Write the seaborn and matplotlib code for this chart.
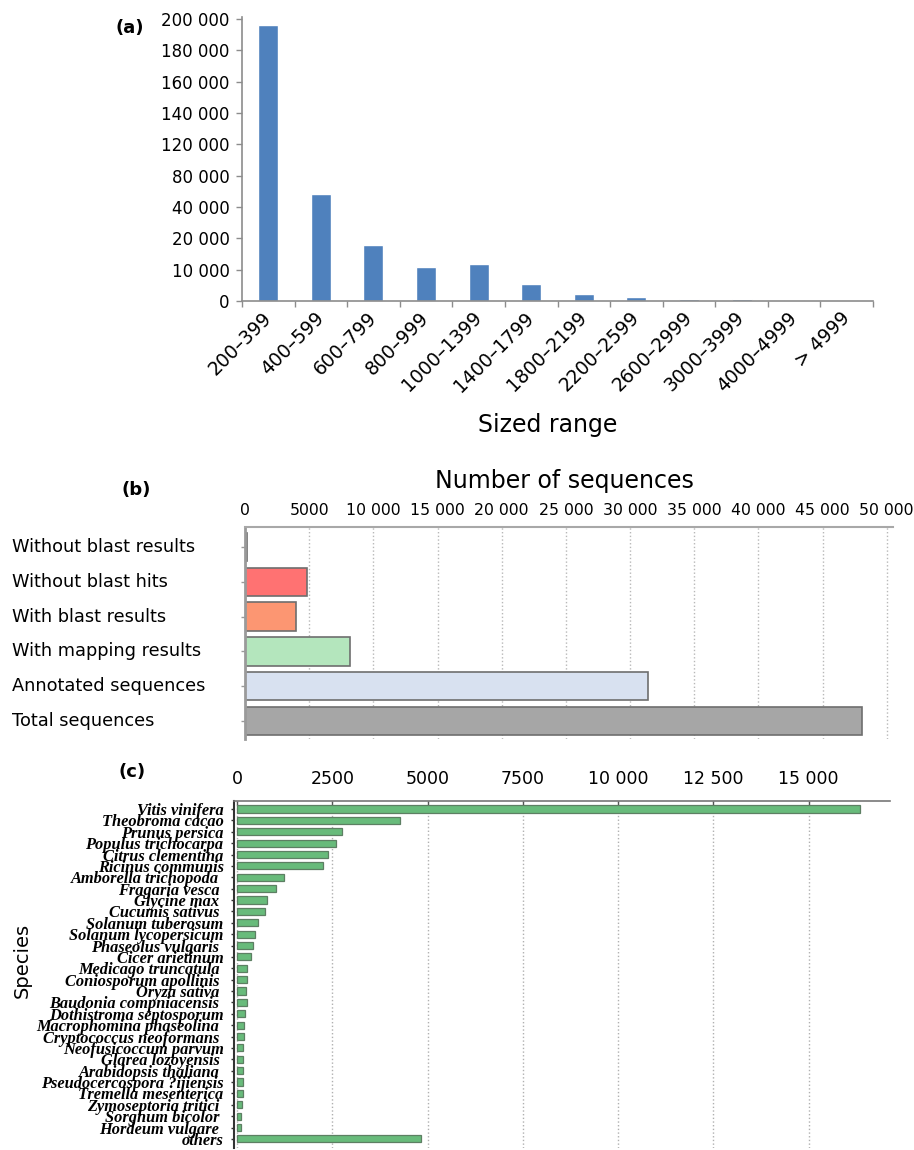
import numpy as np
import pandas as pd
import matplotlib
matplotlib.use("Agg")
import matplotlib.pyplot as plt
import matplotlib.transforms as mtransforms
import seaborn as sns

# ---- data -------------------------------------------------------------
size_ranges = ["200–399", "400–599", "600–799", "800–999", "1000–1399",
               "1400–1799", "1800–2199", "2200–2599", "2600–2999",
               "3000–3999", "4000–4999", "> 4999"]
range_counts = [196000, 56800, 17900, 10900, 11900, 5400, 2300, 1200,
                500, 500, 300, 300]
range_ticks = [0, 10000, 20000, 40000, 80000, 120000, 140000, 160000,
               180000, 200000]

blast_categories = ["Without blast results", "Without blast hits",
                    "With blast results", "With mapping results",
                    "Annotated sequences", "Total sequences"]
blast_counts = [150, 4800, 3940, 8150, 31380, 48050]
blast_colors = ["#a8a8a8", "#ff7272", "#fc9672", "#b4e6bd", "#d8e1f0", "#a6a6a6"]
blast_ticks = list(range(0, 50001, 5000))

species = ["Vitis vinifera", "Theobroma cacao", "Prunus persica",
           "Populus trichocarpa", "Citrus clementina", "Ricinus communis",
           "Amborella trichopoda ", "Fragaria vesca ", "Glycine max ",
           "Cucumis sativus ", "Solanum tuberosum", "Solanum lycopersicum",
           "Phaseolus vulgaris ", "Cicer arietinum", "Medicago truncatula ",
           "Coniosporum apollinis ", "Oryza sativa ", "Baudonia compniacensis ",
           "Dothistroma septosporum", "Macrophomina phaseolina ",
           "Cryptococcus neoformans ", "Neofusicoccum parvum",
           "Glarea lozoyensis ", "Arabidopsis thaliana ",
           "Pseudocercospora ?ijiensis", "Tremella mesenterica",
           "Zymoseptoria tritici ", "Sorghum bicolor ", "Hordeum vulgare ",
           "others"]
species_counts = [16350, 4270, 2740, 2590, 2390, 2260, 1230, 1010, 775, 730,
                  555, 460, 425, 370, 260, 265, 240, 250, 195, 170, 170, 152,
                  152, 150, 150, 145, 126, 108, 100, 4820]
species_ticks = [0, 2500, 5000, 7500, 10000, 12500, 15000]


def spaced(v):
    """Thousands separated by a space, four-digit numbers left plain."""
    return f"{v:,}".replace(",", " ") if v >= 10000 else str(v)


# ---- figure -----------------------------------------------------------
sns.set_theme(style="white")
plt.rcParams["font.family"] = ["DejaVu Sans"]
plt.rcParams.update({"text.color": "black", "axes.labelcolor": "black",
                     "xtick.color": "black", "ytick.color": "black"})
W, H = 914, 1150
fig = plt.figure(figsize=(W / 100, H / 100), dpi=100)


def box(l, t, r, b):
    return [l / W, 1 - b / H, (r - l) / W, (b - t) / H]


# ---- (a) size distribution -------------------------------------------
ax1 = fig.add_axes(box(242, 16.5, 873, 301))
df_a = pd.DataFrame({"range": size_ranges, "count": range_counts})
sns.barplot(data=df_a, x="range", y="count", color="#4f81bd", width=0.38,
            saturation=1, errorbar=None, ax=ax1)

# evenly spaced tick labels: piecewise linear value scale
scale_vals = np.array(range_ticks + [220000], dtype=float)
scale_idx = np.arange(len(scale_vals), dtype=float)
ax1.set_yscale("function",
               functions=(lambda v: np.interp(v, scale_vals, scale_idx),
                          lambda i: np.interp(i, scale_idx, scale_vals)))
ax1.set_ylim(0, 201700)
ax1.set_yticks(range_ticks)
ax1.set_yticklabels([spaced(v) for v in range_ticks], fontsize=12)
ax1.set_xlim(-0.5, len(size_ranges) - 0.5)
ax1.set_xticks(range(len(size_ranges)))
ax1.set_xticklabels(size_ranges, fontsize=13.5, rotation=45, ha="right",
                    va="center", rotation_mode="anchor")
off = mtransforms.ScaledTranslation(13 / 100, 0, fig.dpi_scale_trans)
for lab in ax1.get_xticklabels():
    lab.set_transform(lab.get_transform() + off)
ax1.set_xticks(np.arange(-0.5, len(size_ranges), 1), minor=True)
ax1.tick_params(axis="x", which="major", length=0, pad=10)
ax1.tick_params(axis="x", which="minor", length=4, width=1, color="#8c8c8c",
                bottom=True, direction="out")
ax1.tick_params(axis="y", length=4, width=1, color="#8c8c8c", left=True,
                direction="out", pad=5)
ax1.set_xlabel("")
ax1.set_ylabel("")
for s in ("top", "right"):
    ax1.spines[s].set_visible(False)
for s in ("left", "bottom"):
    ax1.spines[s].set_color("#8c8c8c")
    ax1.spines[s].set_linewidth(1.2)
fig.text(548 / W, 1 - 425 / H, "Sized range", fontsize=17, ha="center",
         va="center")
fig.text(130 / W, 1 - 28 / H, "(a)", fontsize=13, fontweight="bold",
         ha="center", va="center")

# ---- (b) blast summary -------------------------------------------------
ax2 = fig.add_axes(box(245.1, 526.7, 892.7, 739))
df_b = pd.DataFrame({"cat": blast_categories, "n": blast_counts})
sns.barplot(data=df_b, x="n", y="cat", hue="cat", palette=blast_colors,
            orient="h", width=0.82, saturation=1, errorbar=None, legend=False,
            edgecolor="#6e6e6e", linewidth=1.2, ax=ax2)
ax2.set_xlim(0, 50467)
ax2.set_ylim(5.52, -0.59)
ax2.xaxis.tick_top()
ax2.set_xticks(blast_ticks)
ax2.set_xticklabels([spaced(v) for v in blast_ticks], fontsize=11.3)
ax2.tick_params(axis="x", length=0, pad=6, top=True, bottom=False)
ax2.tick_params(axis="y", length=3, width=1, color="#9a9a9a", left=True,
                direction="out", labelleft=False)
ax2.set_xlabel("")
ax2.set_ylabel("")
ax2.grid(axis="x", linestyle=":", color="#b8b8b8", linewidth=1)
ax2.set_axisbelow(True)
for s in ("bottom", "right"):
    ax2.spines[s].set_visible(False)
ax2.spines["top"].set_color("#a8a8a8")
ax2.spines["top"].set_linewidth(1.5)
ax2.spines["left"].set_color("#9a9a9a")
ax2.spines["left"].set_linewidth(2.0)
lab_tr = mtransforms.blended_transform_factory(fig.transFigure, ax2.transData)
for i, name in enumerate(blast_categories):
    ax2.text(12 / W, i, name, transform=lab_tr, fontsize=12.8, ha="left",
             va="center")
fig.text(564 / W, 1 - 481 / H, "Number of sequences", fontsize=17,
         ha="center", va="center")
fig.text(136 / W, 1 - 490 / H, "(b)", fontsize=13, fontweight="bold",
         ha="center", va="center")

# ---- (c) top-hit species ----------------------------------------------
ax3 = fig.add_axes(box(234, 800.7, 890, 1148))
df_c = pd.DataFrame({"sp": species, "n": species_counts})
sns.barplot(data=df_c, x="n", y="sp", orient="h", color="#68bb7b",
            width=0.62, saturation=1, errorbar=None, edgecolor="#5d7f63",
            linewidth=0.9, ax=ax3)
ax3.set_xlim(-84, 17134)
ax3.set_ylim(29.8, -0.73)
ax3.xaxis.tick_top()
ax3.set_xticks(species_ticks)
ax3.set_xticklabels([spaced(v) for v in species_ticks], fontsize=12.5)
ax3.tick_params(axis="x", length=3, width=1, color="#555555", top=True,
                bottom=False, direction="in", pad=9)
ax3.tick_params(axis="y", length=2, width=1, color="#333333", left=True,
                direction="out", pad=5.5)
for lab in ax3.get_yticklabels():
    lab.set_fontfamily("Liberation Serif")
    lab.set_fontweight("bold")
    lab.set_fontstyle("italic")
    lab.set_fontsize(11.8)
ax3.set_xlabel("")
ax3.set_ylabel("")
ax3.grid(axis="x", linestyle=":", color="#b0b0b0", linewidth=1)
ax3.set_axisbelow(True)
for s in ("bottom", "right"):
    ax3.spines[s].set_visible(False)
ax3.spines["top"].set_color("#777777")
ax3.spines["top"].set_linewidth(1.2)
ax3.spines["left"].set_color("#333333")
ax3.spines["left"].set_linewidth(1.5)
fig.text(22 / W, 1 - 960 / H, "Species", fontsize=14, rotation=90,
         ha="center", va="center")
fig.text(132 / W, 1 - 772 / H, "(c)", fontsize=13, fontweight="bold",
         ha="center", va="center")

fig.savefig("out.png", dpi=100)
